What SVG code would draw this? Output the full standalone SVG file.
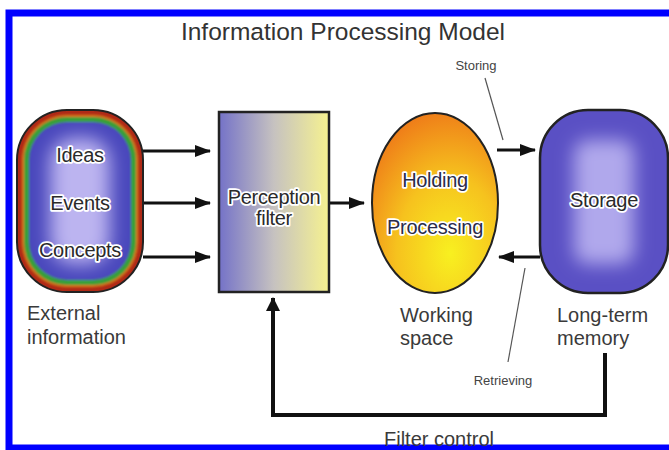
<svg xmlns="http://www.w3.org/2000/svg" width="669" height="450" viewBox="0 0 669 450">
<defs>
  <style>
    .lbl{font-family:"Liberation Sans",Arial,sans-serif;fill:#3a3a3a;}
    .big{font-size:20px;}
    .small{font-size:13px;fill:#444;}
    .halo{font-family:"Liberation Sans",Arial,sans-serif;font-size:20px;fill:#2a2a2a;stroke:#fff;stroke-width:3.5;stroke-linejoin:round;paint-order:stroke;text-anchor:middle;letter-spacing:-0.3px;}
    .arrow{stroke:#111;stroke-width:3;fill:none;marker-end:url(#ah);}
    .leader{stroke:#555;stroke-width:1.2;fill:none;}
  </style>
  <marker id="ah" markerUnits="userSpaceOnUse" markerWidth="16" markerHeight="12" refX="15" refY="6" orient="auto">
    <path d="M0,0 L16,6 L0,12 Z" fill="#111"/>
  </marker>
  <marker id="ah2" markerUnits="userSpaceOnUse" markerWidth="14" markerHeight="18" refX="13" refY="7" orient="auto">
    <path d="M0,0 L14,7 L0,14 Z" fill="#111"/>
  </marker>
  <filter id="blur2" x="-10%" y="-10%" width="120%" height="120%"><feGaussianBlur stdDeviation="1.3"/></filter>
  <filter id="blur8" x="-50%" y="-50%" width="200%" height="200%"><feGaussianBlur stdDeviation="9"/></filter>
  <clipPath id="clipExt"><rect x="17" y="110" width="126" height="182" rx="50"/></clipPath>
  <clipPath id="clipSto"><rect x="540" y="110" width="128" height="183" rx="48"/></clipPath>
  <linearGradient id="gFilter" x1="0" y1="0" x2="1" y2="0">
    <stop offset="0" stop-color="#7472c8"/>
    <stop offset="0.5" stop-color="#c6c2c0"/>
    <stop offset="1" stop-color="#f6f290"/>
  </linearGradient>
  <radialGradient id="gWork" cx="0.62" cy="0.78" r="0.85" fx="0.62" fy="0.78">
    <stop offset="0" stop-color="#f8f020"/>
    <stop offset="0.5" stop-color="#f6c21e"/>
    <stop offset="1" stop-color="#ee7418"/>
  </radialGradient>
</defs>

<rect x="0" y="0" width="669" height="450" fill="#fff"/>
<rect x="9" y="13" width="700" height="435" fill="none" stroke="#0000ff" stroke-width="7"/>

<text x="343" y="40" text-anchor="middle" class="lbl" style="font-size:24.5px;fill:#333">Information Processing Model</text>

<g id="connectors">
  <line class="arrow" x1="143" y1="151" x2="210" y2="151"/>
  <line class="arrow" x1="143" y1="203" x2="210" y2="203"/>
  <line class="arrow" x1="143" y1="257" x2="210" y2="257"/>
  <line class="arrow" x1="330" y1="203" x2="364" y2="203"/>
  <line class="arrow" x1="497" y1="150" x2="535" y2="150"/>
  <line class="arrow" x1="540" y1="257" x2="499" y2="257"/>
  <path d="M605,353 V415 H273 V298" stroke="#111" stroke-width="4" fill="none" marker-end="url(#ah2)"/>
  <line class="leader" x1="485" y1="78" x2="503" y2="140"/>
  <line class="leader" x1="525" y1="268" x2="508" y2="362"/>
</g>

<g id="external">
  <g clip-path="url(#clipExt)">
    <g filter="url(#blur2)">
      <rect x="14" y="107" width="132" height="188" rx="52" fill="#b02a18"/>
      <rect x="22" y="115" width="116" height="172" rx="45" fill="#d8701e"/>
      <rect x="24" y="117" width="112" height="168" rx="43" fill="#38a038"/>
      <rect x="29" y="122" width="102" height="158" rx="38" fill="#4a46bc"/>
    </g>
    <rect x="50" y="138" width="60" height="126" rx="24" fill="#bcb4f0" filter="url(#blur8)"/>
  </g>
  <rect x="17" y="110" width="126" height="182" rx="50" fill="none" stroke="#222" stroke-width="2"/>
  <text class="halo" x="80" y="162">Ideas</text>
  <text class="halo" x="80" y="210">Events</text>
  <text class="halo" x="80" y="257">Concepts</text>
  <text class="lbl big" x="27" y="320">External</text>
  <text class="lbl big" x="27" y="344">information</text>
</g>

<g id="filter">
  <rect x="219" y="112" width="110" height="180" fill="url(#gFilter)" stroke="#222" stroke-width="2.5"/>
  <text class="halo" x="274" y="204">Perception</text>
  <text class="halo" x="274" y="225">filter</text>
</g>

<g id="working">
  <ellipse cx="435" cy="203" rx="63" ry="90" fill="url(#gWork)" stroke="#222" stroke-width="2"/>
  <text class="halo" x="435" y="187" style="fill:#2a2c4a">Holding</text>
  <text class="halo" x="435" y="234" style="fill:#2a2c4a">Processing</text>
  <text class="lbl big" x="400" y="322">Working</text>
  <text class="lbl big" x="400" y="345">space</text>
</g>

<g id="storage">
  <rect x="540" y="110" width="128" height="183" rx="48" fill="#5a50c4"/>
  <g clip-path="url(#clipSto)">
    <rect x="574" y="140" width="60" height="124" rx="14" fill="#b0a8ec" filter="url(#blur8)"/>
  </g>
  <rect x="540" y="110" width="128" height="183" rx="48" fill="none" stroke="#222" stroke-width="2.5"/>
  <text class="halo" x="604" y="207">Storage</text>
  <text class="lbl big" x="557" y="322">Long-term</text>
  <text class="lbl big" x="557" y="345">memory</text>
</g>

<g id="labels">
  <text class="lbl small" x="476" y="70" text-anchor="middle">Storing</text>
  <text class="lbl small" x="503" y="385" text-anchor="middle">Retrieving</text>
  <text class="lbl big" x="439" y="446" text-anchor="middle">Filter control</text>
</g>
</svg>
